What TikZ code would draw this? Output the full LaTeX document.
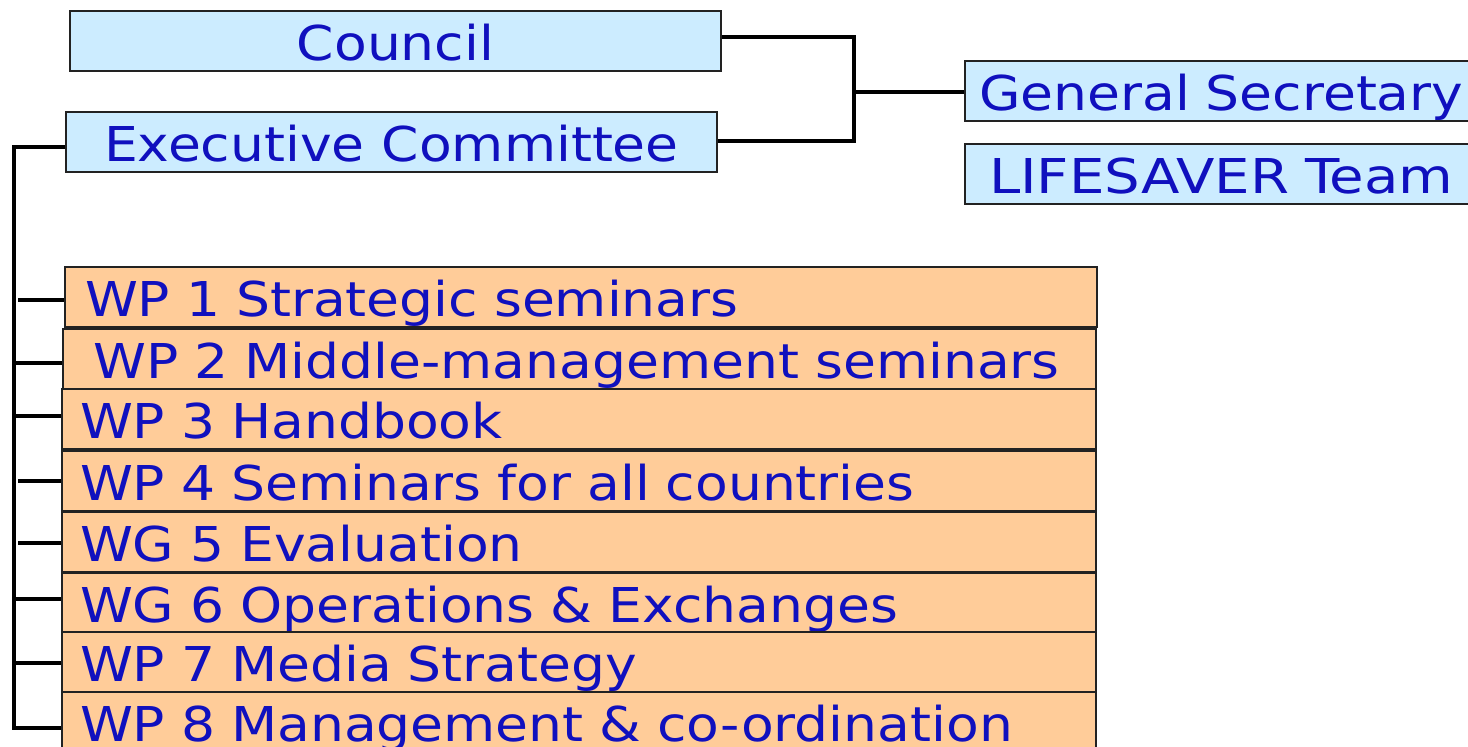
\documentclass[tikz,border=0pt]{standalone}
\usepackage{fontspec}
\setmainfont{DejaVu Sans}[FakeStretch=1.115]
\newfontfamily\widerfont{DejaVu Sans}[FakeStretch=1.17]
\definecolor{boxblue}{HTML}{CCECFF}
\definecolor{boxorange}{HTML}{FFCC99}
\definecolor{txtblue}{HTML}{1010BE}
\definecolor{edge}{HTML}{222222}
\begin{document}
\begin{tikzpicture}[x=0.5pt,y=-0.5pt,
  box/.style={draw=edge, line width=1pt, anchor=north west, font=\fontsize{24}{24}\selectfont,
    text=txtblue, minimum height=30pt, text height=19.5pt, text depth=0pt, inner ysep=0pt},
  bluebox/.style={box, fill=boxblue},
  orbox/.style={box, fill=boxorange, minimum width=517pt, text width=499pt, inner xsep=9pt, align=left},
  conn/.style={draw=black, line width=2pt}]
\useasboundingbox (0,0) rectangle (1468,747);
\node[bluebox, minimum width=325.5pt, align=center] (council) at (69,10) {Council};
\node[bluebox, minimum width=325.5pt, align=center] (exec) at (65,111) {Executive Committee};
\node[bluebox, minimum width=260pt, text width=246pt, inner xsep=7pt, align=left] (gs) at (964,60) {General Secretary};
\node[bluebox, minimum width=260pt, text width=242pt, inner xsep=12pt, align=left] (team) at (964,143) {\widerfont LIFESAVER Team};

\node[orbox, minimum width=516pt, inner xsep=10pt, text width=496pt] (wp1) at (64,266) {WP 1 Strategic seminars};
\node[orbox, minimum width=516.5pt, inner xsep=15pt, text width=486pt] (wp2) at (62,328) {WP 2 Middle-management seminars};
\node[orbox] (wp3) at (61,388) {WP 3 Handbook};
\node[orbox] (wp4) at (61,450) {WP 4 Seminars for all countries};
\node[orbox] (wg5) at (61,511) {WG 5 Evaluation};
\node[orbox] (wg6) at (61,572) {WG 6 Operations \& Exchanges};
\node[orbox] (wp7) at (61,631) {WP 7 Media Strategy};
\node[orbox] (wp8) at (61,691) {WP 8 Management \& co-ordination};

\coordinate (j) at (854,92);
\coordinate (tr) at (14,147);
\draw[conn] (council.east |- 0,37) -| (j |- 0,37) -- (j |- 0,141) -- (exec.east |- 0,141);
\draw[conn] (j) -- (gs.west |- j);
\draw[conn] (exec.west |- tr) -- (tr) -- (tr |- 0,728) -- (wp8.west |- 0,728);
\draw[conn] (18,300) -- (wp1.west |- 0,300);
\draw[conn] (tr |- 0,363) -- (wp2.west |- 0,363);
\draw[conn] (tr |- 0,416) -- (wp3.west |- 0,416);
\draw[conn] (18,481) -- (wp4.west |- 0,481);
\draw[conn] (18,543) -- (wg5.west |- 0,543);
\draw[conn] (tr |- 0,599) -- (wg6.west |- 0,599);
\draw[conn] (tr |- 0,663) -- (wp7.west |- 0,663);
\end{tikzpicture}
\end{document}
